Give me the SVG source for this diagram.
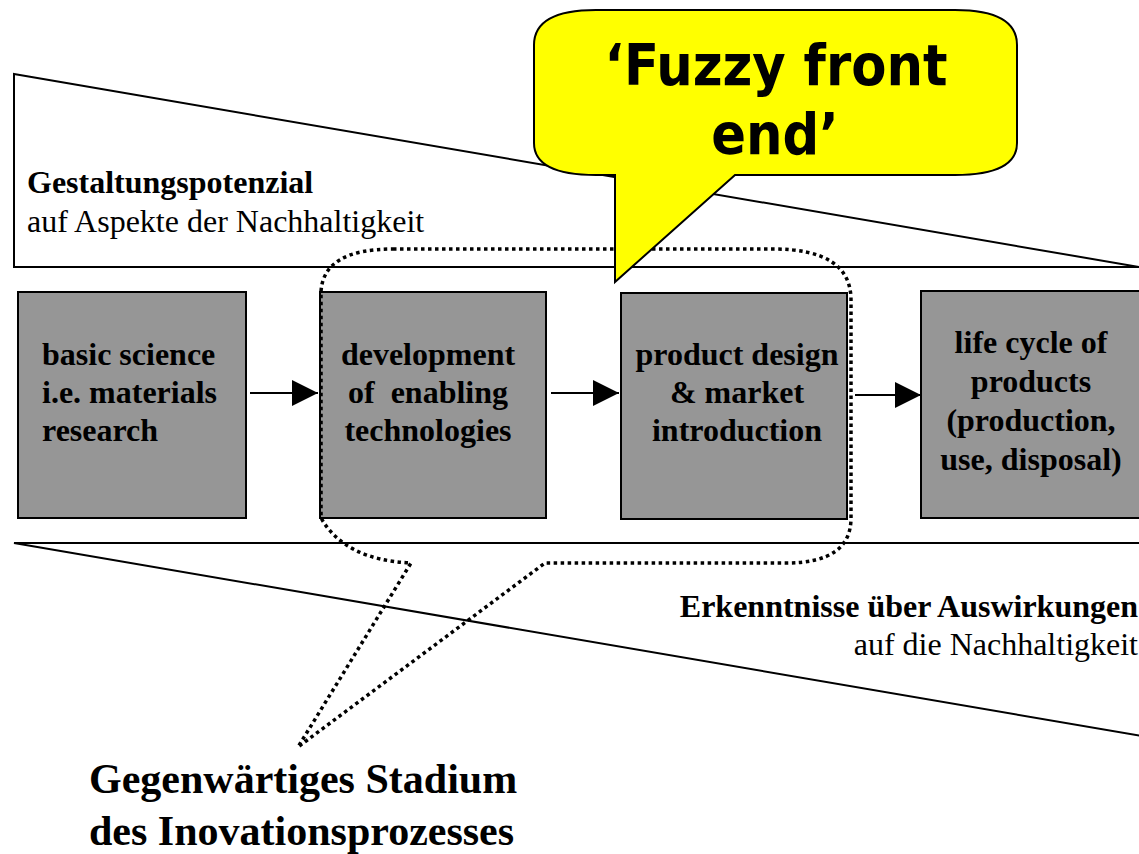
<svg xmlns="http://www.w3.org/2000/svg" width="1139" height="854" viewBox="0 0 1139 854">
  <defs>
    <style>
      .wedge { fill: #ffffff; stroke: #000000; stroke-width: 2; }
      .box { fill: #969696; stroke: #000000; stroke-width: 2; }
      .boxtxt { font-family: "Liberation Serif", "Times New Roman", serif; font-weight: bold; font-size: 32px; fill: #000000; white-space: pre; }
      .lbl { font-family: "Liberation Serif", "Times New Roman", serif; font-size: 32px; fill: #000000; }
      .big { font-family: "Liberation Serif", "Times New Roman", serif; font-weight: bold; font-size: 42px; fill: #000000; }
      .conn { stroke: #000000; stroke-width: 2; fill: none; }
      .dotted { fill: none; stroke: #000000; stroke-width: 3.5; stroke-dasharray: 3.5 3.5; }
      .bubble { fill: #ffff00; stroke: #000000; stroke-width: 2; }
      .fuzzy { font-family: "DejaVu Sans Condensed", "DejaVu Sans", sans-serif; font-stretch: condensed; font-weight: bold; font-size: 57px; fill: #000000; }
    </style>
    <marker id="arrow" viewBox="0 0 26 26" refX="26" refY="13" markerWidth="26" markerHeight="26" markerUnits="userSpaceOnUse" orient="auto">
      <path d="M0,0 L26,13 L0,26 Z" fill="#000000"/>
    </marker>
  </defs>

  <!-- upper wedge: design potential -->
  <g id="wedge-top">
    <path class="wedge" d="M14,74 L1139,267 L14,267 Z"/>
    <text class="lbl" x="27" y="193" font-weight="bold">Gestaltungspotenzial</text>
    <text class="lbl" x="27" y="232">auf Aspekte der Nachhaltigkeit</text>
  </g>

  <!-- lower wedge: knowledge of impacts -->
  <g id="wedge-bottom">
    <path class="wedge" d="M14,543 L1142,543 L1142,736 Z"/>
    <text class="lbl" x="1138" y="617" text-anchor="end" font-weight="bold">Erkenntnisse über Auswirkungen</text>
    <text class="lbl" x="1138" y="655" text-anchor="end">auf die Nachhaltigkeit</text>
  </g>

  <!-- process stages -->
  <g id="node-basic-science">
    <rect class="box" x="18" y="292" width="228" height="226"/>
    <text class="boxtxt" x="42" y="365">basic science</text>
    <text class="boxtxt" x="42" y="403">i.e. materials</text>
    <text class="boxtxt" x="42" y="441">research</text>
  </g>

  <g id="node-enabling-tech">
    <rect class="box" x="320" y="292" width="226" height="226"/>
    <text class="boxtxt" x="428" y="365" text-anchor="middle">development</text>
    <text class="boxtxt" x="428" y="403" text-anchor="middle">of  enabling</text>
    <text class="boxtxt" x="428" y="441" text-anchor="middle">technologies</text>
  </g>

  <g id="node-product-design">
    <rect class="box" x="621" y="293" width="226" height="226"/>
    <text class="boxtxt" x="737" y="365" text-anchor="middle">product design</text>
    <text class="boxtxt" x="737" y="403" text-anchor="middle">&amp; market</text>
    <text class="boxtxt" x="737" y="441" text-anchor="middle">introduction</text>
  </g>

  <g id="node-life-cycle">
    <rect class="box" x="921" y="291" width="224" height="227"/>
    <text class="boxtxt" x="1031" y="353" text-anchor="middle">life cycle of</text>
    <text class="boxtxt" x="1031" y="392" text-anchor="middle">products</text>
    <text class="boxtxt" x="1031" y="431" text-anchor="middle">(production,</text>
    <text class="boxtxt" x="1031" y="470" text-anchor="middle">use, disposal)</text>
  </g>

  <!-- flow arrows between stages -->
  <g id="connectors">
    <line class="conn" x1="250" y1="393" x2="318" y2="393" marker-end="url(#arrow)"/>
    <line class="conn" x1="551" y1="393" x2="619" y2="393" marker-end="url(#arrow)"/>
    <line class="conn" x1="855" y1="395" x2="921" y2="395" marker-end="url(#arrow)"/>
  </g>

  <!-- dotted callout marking the current stage -->
  <g id="current-stage">
    <path class="dotted" d="M393,249 L773,249 Q851,249 851,300 L851,518 Q851,563 786,563 L545,563 L298,747 L411,563 Q345,560 321,518 L321,292 Q323,249 393,249 Z"/>
    <text class="big" x="89" y="793">Gegenwärtiges Stadium</text>
    <text class="big" x="89" y="845">des Inovationsprozesses</text>
  </g>

  <!-- yellow speech bubble -->
  <g id="fuzzy-front-end">
    <path class="bubble" d="M596,10 L955,10 Q1017,10 1017,45 L1017,143 Q1017,175 955,175 L735,175 L615,282 L615,175 L596,175 Q534,175 534,143 L534,45 Q534,10 596,10 Z"/>
    <text class="fuzzy" x="776" y="85" text-anchor="middle">‘Fuzzy front</text>
    <text class="fuzzy" x="775" y="154" text-anchor="middle">end’</text>
  </g>
</svg>
